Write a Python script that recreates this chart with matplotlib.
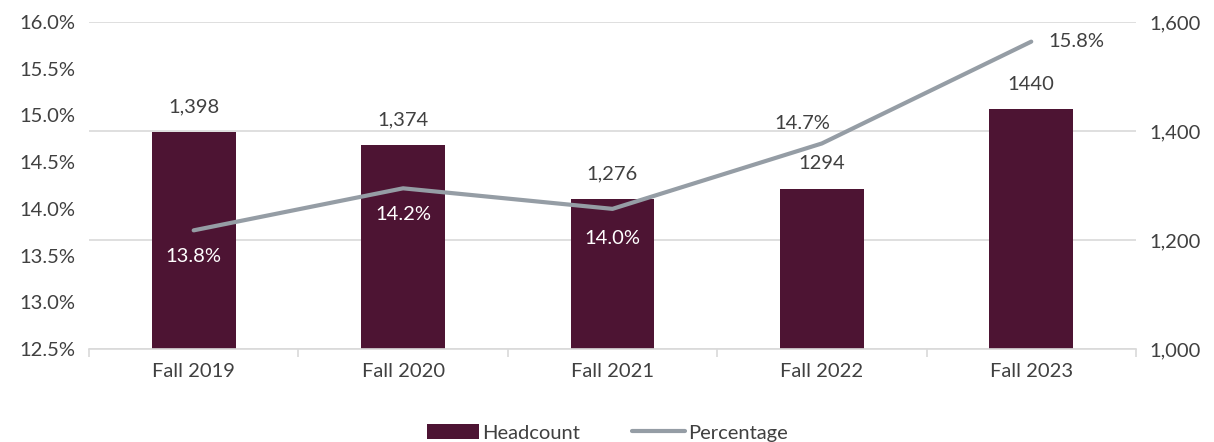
import matplotlib
matplotlib.use("Agg")
import matplotlib.pyplot as plt
from matplotlib.ticker import FuncFormatter, FixedLocator

plt.rcParams['font.family'] = ['Lato', 'DejaVu Sans']

categories = ["Fall 2019", "Fall 2020", "Fall 2021", "Fall 2022", "Fall 2023"]
headcount = [1398, 1374, 1276, 1294, 1440]
headcount_labels = ["1,398", "1,374", "1,276", "1294", "1440"]
percentage = [13.77, 14.22, 14.0, 14.70, 15.79]
percentage_labels = ["13.8%", "14.2%", "14.0%", "14.7%", "15.8%"]

bar_color = "#4D1433"
line_color = "#959DA5"
text_color = "#404040"
grid_color = "#D9D9D9"

fig = plt.figure(figsize=(12.14, 4.42), dpi=100)
ax = fig.add_axes([0.0733, 0.2104, 0.8624, 0.7398])
ax2 = ax.twinx()

x = list(range(len(categories)))

# bars on right axis (ax2), line on left axis (ax)
ax2.bar(x, headcount, width=0.4, color=bar_color, zorder=2, label="Headcount")
ax2.set_ylim(1000, 1600)
ax2.set_yticks([1000, 1200, 1400, 1600])
ax2.yaxis.set_major_formatter(FuncFormatter(lambda v, p: f"{int(v):,}"))
ax2.yaxis.grid(True, color=grid_color, linewidth=1.2, zorder=0)
ax2.set_axisbelow(True)

ax.set_ylim(12.5, 16.0)
ax.set_yticks([12.5, 13.0, 13.5, 14.0, 14.5, 15.0, 15.5, 16.0])
ax.yaxis.set_major_formatter(FuncFormatter(lambda v, p: f"{v:.1f}%"))
ax.set_xlim(-0.5, 4.5)

# put line axis on top of bar axis
ax.set_zorder(ax2.get_zorder() + 1)
ax.patch.set_visible(False)
ax.plot(x, percentage, color=line_color, linewidth=3, solid_capstyle='round', label="Percentage")

for a in (ax, ax2):
    for s in a.spines.values():
        s.set_visible(False)
    a.tick_params(axis='y', length=0, labelsize=14.5, labelcolor=text_color, pad=10)

ax.spines['bottom'].set_visible(True)
ax.spines['bottom'].set_color(grid_color)
ax.spines['bottom'].set_linewidth(1.2)

ax.set_xticks(x)
ax.set_xticklabels(categories)
ax.xaxis.set_minor_locator(FixedLocator([-0.5, 0.5, 1.5, 2.5, 3.5, 4.5]))
ax.tick_params(axis='x', which='major', length=0, labelsize=14.5, labelcolor=text_color, pad=10)
ax.tick_params(axis='x', which='minor', length=6, color=grid_color, width=1.2)
ax2.tick_params(axis='x', length=0, labelbottom=False)

# bar labels
for xi, h, lab in zip(x, headcount, headcount_labels):
    ax2.annotate(lab, (xi, h), xytext=(0, 12), textcoords='offset points',
                 ha='center', va='bottom', fontsize=14.5, color=text_color)

# line labels
offsets = [(0, -13, 'center', 'top', 'white'),
           (0, -13, 'center', 'top', 'white'),
           (0, -15, 'center', 'top', 'white'),
           (-14, 8, 'center', 'bottom', text_color),
           (12, 0, 'left', 'center', text_color)]
for xi, p, lab, (dx, dy, ha, va, c) in zip(x, percentage, percentage_labels, offsets):
    ax.annotate(lab, (xi, p), xytext=(dx, dy), textcoords='offset points',
                ha=ha, va=va, fontsize=14.5, color=c, zorder=5)

# legend
h1, l1 = ax2.get_legend_handles_labels()
h2, l2 = ax.get_legend_handles_labels()
fig.legend(h1 + h2, l1 + l2, loc='lower center', bbox_to_anchor=(0.5, -0.04), ncol=2,
           frameon=False, fontsize=14.5, handlelength=2.6, handleheight=0.75,
           handletextpad=0.15, columnspacing=2.6, labelcolor=text_color)

fig.savefig("out.png", dpi=100)
